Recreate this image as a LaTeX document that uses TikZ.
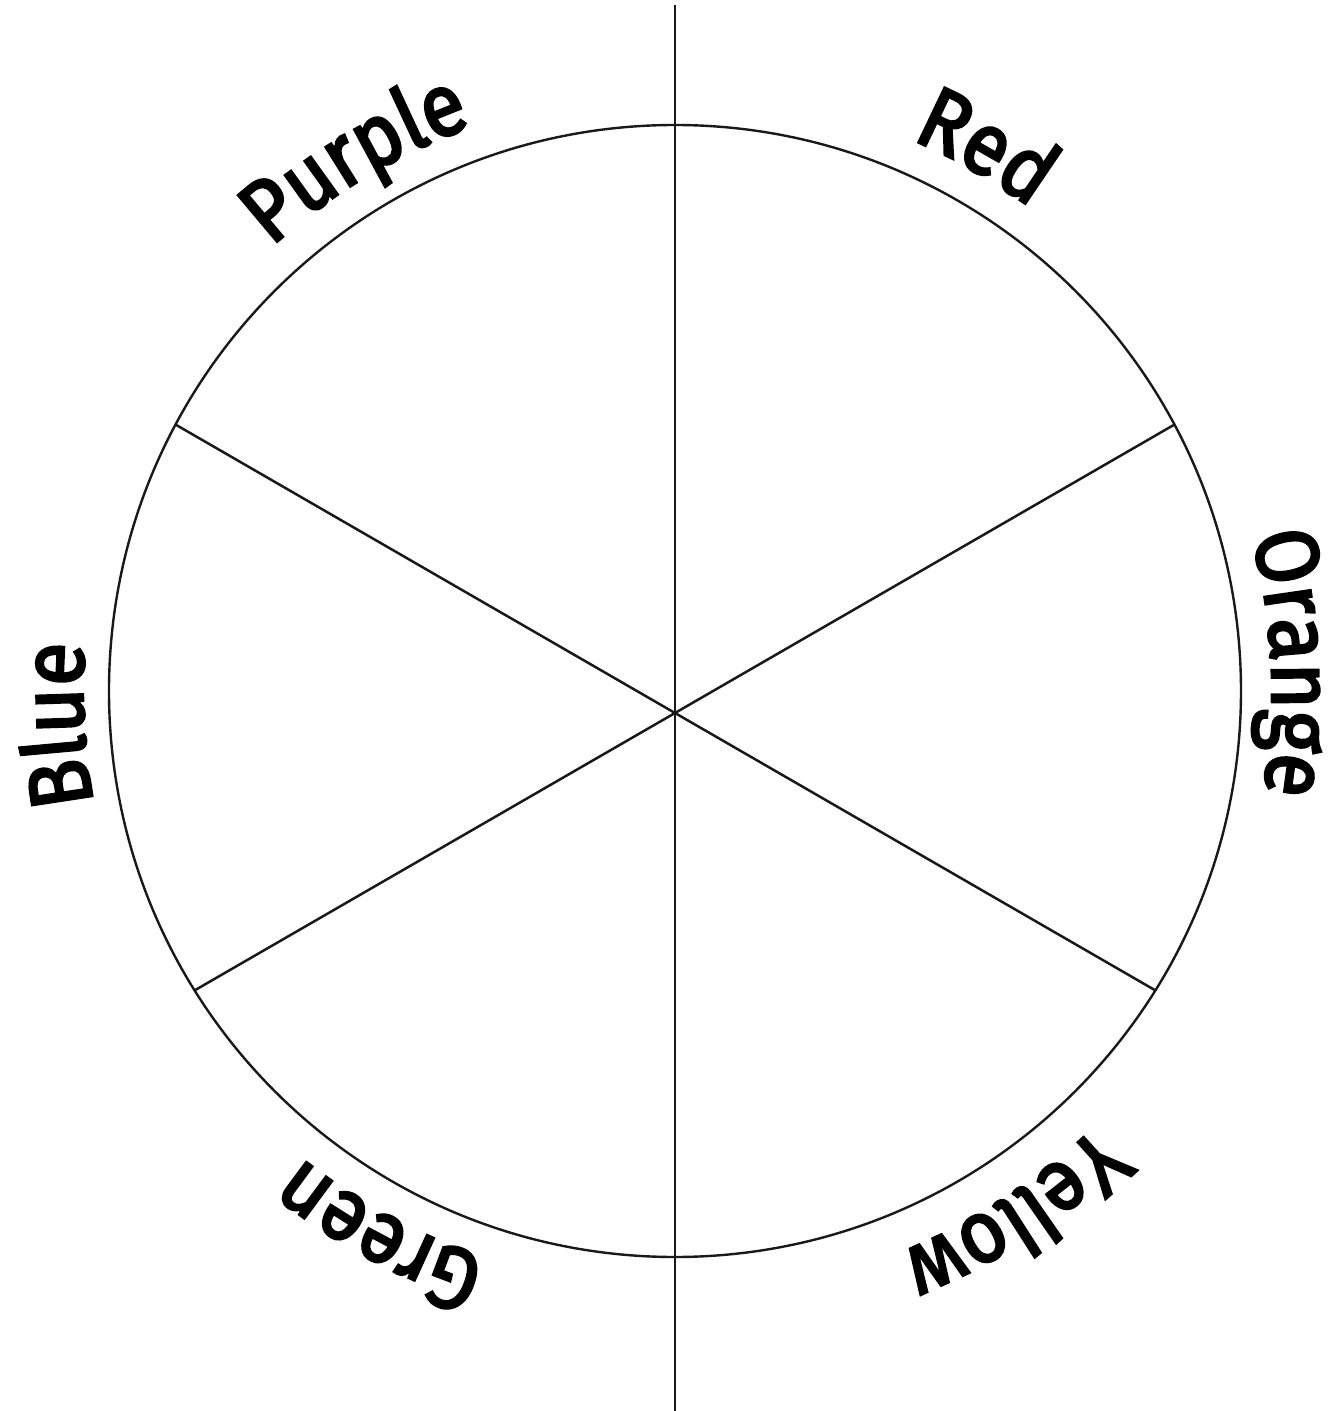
\documentclass[tikz,border=0pt]{standalone}
\usepackage{fontspec}
\newfontfamily\lblfamily{Fira Sans}[FakeBold=3,FakeStretch=0.9]
\usetikzlibrary{decorations.text}
\newcommand{\lbl}{\lblfamily\fontsize{88}{100}\selectfont}
\tikzset{
  wheel/.style={line width=2.4pt, draw=black!90},
  spoke/.style={line width=2.5pt, draw=black!90},
  axisline/.style={line width=2.9pt, draw=black!90},
  arclabel/.style={decorate, decoration={text along path, text={|\lbl|#1}, text align=center}}
}
\begin{document}
\begin{tikzpicture}[x=1pt,y=1pt]
\useasboundingbox (-675,-720) rectangle (660,691);
\coordinate (C) at (0,0);
\coordinate (M) at (0,-22);
\coordinate (T) at (0,686);
\coordinate (B) at (0,-720);
\coordinate (P150) at (-499.4,266.4);
\coordinate (P210) at (-480.4,-299.4);
\coordinate (P30) at (499.4,266.4);
\coordinate (P330) at (480.4,-299.4);
\draw[wheel] (C) circle[radius=566];
\draw[spoke] (P150) -- (M) -- (P330);
\draw[spoke] (P30) -- (M) -- (P210);
\draw[axisline] (T) -- (B);
\path[arclabel=Purple] (151:600) arc[start angle=151, end angle=91, radius=600];
\path[arclabel=Red] (90.2:600) arc[start angle=90.2, end angle=30.2, radius=600];
\path[arclabel=Orange] (32.6:597) arc[start angle=32.6, end angle=-27.4, radius=597];
\path[arclabel=Yellow] (-27:605) arc[start angle=-27, end angle=-87, radius=605];
\path[arclabel=Green] (-88.5:598) arc[start angle=-88.5, end angle=-148.5, radius=598];
\path[arclabel=Blue] (213.2:592) arc[start angle=213.2, end angle=153.2, radius=592];
\end{tikzpicture}
\end{document}
